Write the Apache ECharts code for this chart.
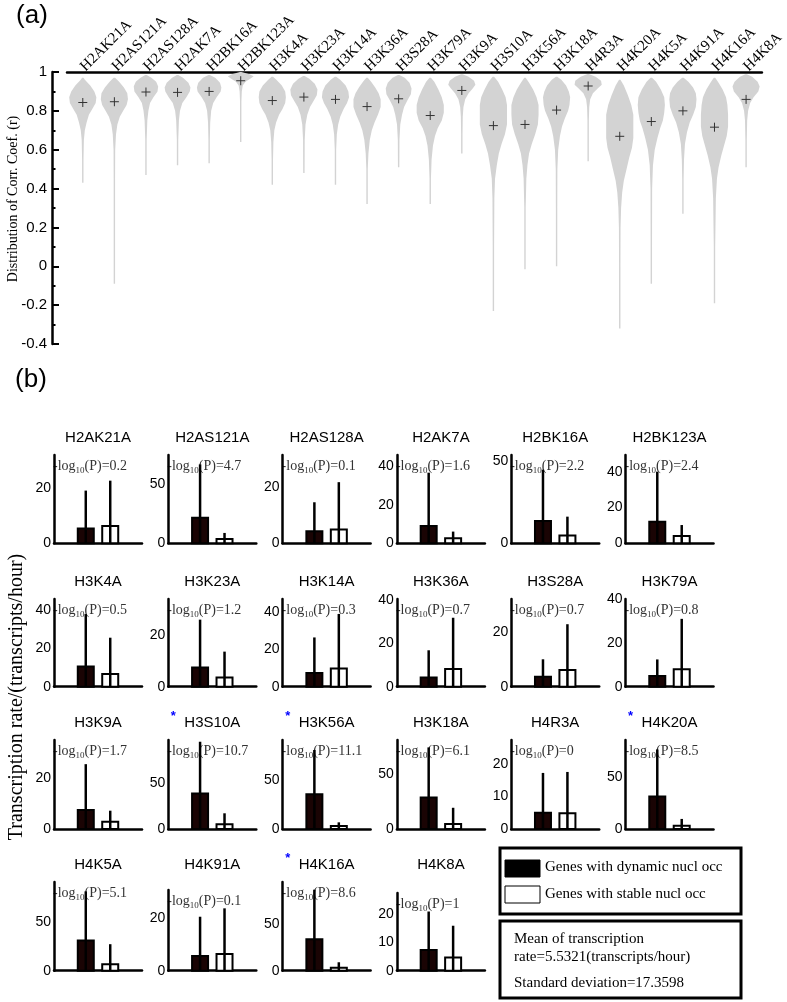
<!DOCTYPE html>
<html><head><meta charset="utf-8">
<script src="https://cdn.jsdelivr.net/npm/echarts@6/dist/echarts.min.js"></script>
<style>html,body{margin:0;padding:0;background:#fff}#c{width:787px;height:1002px}</style>
</head><body><div id="c"></div><script>
// ---------- DATA ----------
const marks = ['H2AK21A','H2AS121A','H2AS128A','H2AK7A','H2BK16A','H2BK123A','H3K4A','H3K23A','H3K14A','H3K36A','H3S28A','H3K79A','H3K9A','H3S10A','H3K56A','H3K18A','H4R3A','H4K20A','H4K5A','H4K91A','H4K16A','H4K8A'];
// (a) mean correlation coefficient per mark
const meanR = [0.843,0.847,0.897,0.895,0.900,0.955,0.853,0.871,0.859,0.822,0.862,0.776,0.905,0.724,0.730,0.804,0.928,0.669,0.745,0.800,0.716,0.859];
// (a) violin density profiles: [r, relative density]
const violinProfiles = [
 [[.97,0],[.96,.15],[.93,.55],[.90,.85],[.87,1],[.84,.95],[.81,.7],[.78,.45],[.74,.28],[.70,.15],[.65,.08],[.55,.04],[.43,0]],
 [[.97,0],[.95,.35],[.92,.7],[.89,.95],[.86,1],[.83,.9],[.80,.65],[.77,.4],[.73,.22],[.68,.12],[.60,.06],[.45,.04],[.20,.03],[-.09,0]],
 [[.985,0],[.97,.4],[.95,.75],[.925,.9],[.90,.85],[.87,.55],[.84,.3],[.80,.18],[.75,.1],[.65,.05],[.47,0]],
 [[.985,0],[.97,.4],[.945,.8],[.92,.95],[.90,.9],[.87,.65],[.84,.35],[.80,.18],[.75,.1],[.65,.05],[.52,0]],
 [[.985,0],[.97,.45],[.945,.8],[.92,.9],[.90,.85],[.87,.55],[.84,.3],[.80,.15],[.74,.08],[.65,.04],[.53,0]],
 [[1.0,0],[.99,.6],[.978,.95],[.965,.7],[.95,.35],[.93,.15],[.90,.08],[.85,.05],[.75,.03],[.64,0]],
 [[.975,0],[.96,.3],[.93,.7],[.90,.95],[.87,1],[.84,.95],[.81,.75],[.78,.5],[.74,.28],[.70,.15],[.64,.08],[.55,.04],[.42,0]],
 [[.98,0],[.965,.4],[.94,.8],[.91,1],[.88,.95],[.85,.7],[.82,.45],[.78,.25],[.73,.12],[.65,.06],[.48,0]],
 [[.975,0],[.96,.35],[.93,.75],[.90,.95],[.87,1],[.84,.85],[.81,.6],[.77,.35],[.73,.2],[.68,.1],[.60,.05],[.42,0]],
 [[.97,0],[.95,.3],[.92,.6],[.89,.85],[.86,1],[.82,1],[.78,.8],[.74,.55],[.70,.35],[.65,.2],[.58,.1],[.50,.05],[.32,0]],
 [[.985,0],[.97,.45],[.945,.8],[.915,.95],[.885,.9],[.855,.65],[.82,.4],[.78,.25],[.73,.12],[.65,.06],[.51,0]],
 [[.97,0],[.95,.3],[.91,.6],[.87,.85],[.83,1],[.79,1],[.75,.85],[.71,.55],[.67,.35],[.62,.2],[.55,.1],[.45,.05],[.32,0]],
 [[.988,0],[.975,.5],[.955,.9],[.935,1],[.915,.8],[.89,.5],[.86,.25],[.82,.12],[.77,.07],[.68,.04],[.58,0]],
 [[.975,0],[.95,.35],[.91,.65],[.87,.9],[.83,1],[.78,1],[.73,1],[.68,.85],[.63,.6],[.58,.4],[.52,.25],[.45,.12],[.35,.07],[.10,.04],[-.23,0]],
 [[.97,0],[.945,.3],[.91,.6],[.87,.85],[.83,1],[.78,1],[.73,.95],[.68,.75],[.63,.5],[.58,.3],[.52,.18],[.45,.1],[.30,.05],[-.015,0]],
 [[.976,0],[.96,.35],[.93,.7],[.90,.9],[.87,1],[.83,.95],[.80,.85],[.76,.6],[.72,.4],[.67,.25],[.60,.12],[.50,.06],[.30,.04],[0,0]],
 [[.99,0],[.975,.55],[.955,.95],[.935,1],[.915,.7],[.89,.35],[.86,.15],[.82,.08],[.75,.05],[.54,0]],
 [[.96,0],[.93,.3],[.88,.6],[.83,.85],[.78,1],[.72,1],[.66,1],[.61,.9],[.56,.7],[.50,.5],[.44,.3],[.38,.18],[.30,.1],[.20,.06],[0,.04],[-.32,0]],
 [[.97,0],[.95,.35],[.91,.7],[.87,.95],[.83,1],[.79,.95],[.75,.85],[.71,.65],[.66,.45],[.60,.25],[.52,.12],[.40,.06],[.10,.03],[-.09,0]],
 [[.97,0],[.95,.4],[.92,.75],[.89,.95],[.86,1],[.82,.95],[.78,.75],[.74,.5],[.69,.3],[.63,.15],[.55,.08],[.45,.05],[.27,0]],
 [[.97,0],[.945,.3],[.91,.6],[.87,.85],[.83,.95],[.78,1],[.72,1],[.67,.9],[.62,.7],[.57,.5],[.51,.3],[.45,.18],[.35,.1],[.10,.05],[-.19,0]],
 [[.988,0],[.975,.45],[.95,.85],[.925,1],[.90,.9],[.87,.55],[.84,.3],[.80,.15],[.75,.08],[.65,.04],[.51,0]]
];

// (b) transcription rate per mark
const dynMean     = [5.4,21.7,4.3,9.0,13.7,12.1,10.6,7.4,7.3,4.3,3.6,4.9,7.5,39,35.4,28.4,5.0,31.3,31.2,5.6,33.6,7.3];
const dynUpper    = [19.1,67,14.5,36.8,45,40,38.1,26,26.4,16.9,10,12.5,25.5,95.6,80.6,73.8,17.2,76.6,82.3,20.6,86.4,20.8];
const stableMean  = [6.3,3.6,4.9,2.6,4.7,4.1,6.7,3.6,9.7,8.2,6.1,8.0,2.9,5.1,3.1,4.6,4.8,3.2,6.7,6.4,3.2,4.6];
const stableUpper = [22.7,8.8,21.6,6.1,16.3,10.2,25.7,13.6,39,32,22.8,31.1,7.2,17.2,6.8,19.2,17.5,9.7,27.5,23.8,9.0,15.8];
const logP        = ['0.2','4.7','0.1','1.6','2.2','2.4','0.5','1.2','0.3','0.7','0.7','0.8','1.7','10.7','11.1','6.1','0','8.5','5.1','0.1','8.6','1'];
const significant = [0,0,0,0,0,0,0,0,0,0,0,0,0,1,1,0,0,1,0,0,1,0];
const yMax        = [32,75,31.2,46,54,49.3,46,34,47,40.7,32,40.2,35,97.5,90.8,80.5,27.3,85.7,92,30.8,94.6,27.3];
const yStep       = [20,50,20,20,50,20,20,20,20,20,20,20,20,50,50,50,10,50,50,20,50,10];
const legendLabels = ['Genes with dynamic nucl occ','Genes with stable nucl occ'];
const statLines = ['Mean of transcription','rate=5.5321(transcripts/hour)','Standard deviation=17.3598'];

// ---------- LAYOUT ----------
const SANS = 'Liberation Sans', SERIF = 'Liberation Serif';
const chart = echarts.init(document.getElementById('c'), null, {renderer:'canvas'});
const grids = [], xAxes = [], yAxes = [], series = [], graphics = [];

// panel (a)
grids.push({left:67, right:21, top:72, height:272});
xAxes.push({gridIndex:0, type:'category', data:marks, position:'top', boundaryGap:true,
  axisLine:{onZero:false, lineStyle:{color:'#000', width:2.5}}, axisTick:{show:false},
  axisLabel:{interval:0, rotate:-45, margin:3, color:'#000', fontFamily:SERIF, fontSize:15}});
yAxes.push({gridIndex:0, type:'value', min:-0.4, max:1, interval:0.2, offset:15,
  axisLine:{show:true, lineStyle:{color:'#000', width:2.5}},
  axisTick:{show:true, inside:true, length:7, lineStyle:{color:'#000', width:2}},
  minorTick:{show:true, splitNumber:2, length:3.5, lineStyle:{color:'#000', width:2}},
  splitLine:{show:false},
  axisLabel:{color:'#000', fontFamily:SANS, fontSize:15, margin:5,
    formatter:v => String(Math.round(v*10)/10)}});
series.push({type:'custom', xAxisIndex:0, yAxisIndex:0, clip:false,
  data: marks.map((m,i)=>[i, meanR[i]]),
  renderItem(params, api){
    const i = api.value(0);
    const prof = violinProfiles[i];
    const cx = api.coord([i, 0])[0];
    const band = api.size([1, 0])[0];
    const hw = band * 0.43;
    const right = prof.map(([r,d]) => [cx + Math.max(d*hw, 0.7), api.coord([i, r])[1]]);
    const left = prof.map(([r,d]) => [cx - Math.max(d*hw, 0.7), api.coord([i, r])[1]]).reverse();
    const m = api.coord([i, api.value(1)]);
    return {type:'group', children:[
      {type:'polygon', shape:{points:right.concat(left)}, style:{fill:'#d3d3d3', stroke:null}},
      {type:'line', shape:{x1:m[0]-4.5, y1:m[1], x2:m[0]+4.5, y2:m[1]}, style:{stroke:'#333', lineWidth:1}},
      {type:'line', shape:{x1:m[0], y1:m[1]-4.5, x2:m[0], y2:m[1]+4.5}, style:{stroke:'#333', lineWidth:1}}
    ]};
  }});

// panel (b)
const colLeft = i => 54 + 114.3*i;
const rowTop = [455, 599, 740, 882];
const rowBottom = [543.3, 686.7, 829, 970.7];
const topShift = {19:8, 21:11};
const measureCtx = document.createElement('canvas').getContext('2d');
measureCtx.font = '15px "' + SANS + '"';

marks.forEach((name, k) => {
  const row = Math.floor(k/6), col = k%6;
  const left = colLeft(col);
  const top = rowTop[row] + (topShift[k]||0);
  const height = rowBottom[row] - top;
  const gi = grids.length;
  grids.push({left, top, width:88, height});
  xAxes.push({gridIndex:gi, type:'value', min:0, max:3.6,
    axisLine:{show:true, onZero:false, lineStyle:{color:'#000', width:2.5}},
    axisTick:{show:false}, axisLabel:{show:false}, splitLine:{show:false}});
  yAxes.push({gridIndex:gi, type:'value', min:0, max:yMax[k], interval:yStep[k],
    axisLine:{show:true, lineStyle:{color:'#000', width:2.5}},
    axisTick:{show:false}, splitLine:{show:false},
    axisLabel:{color:'#000', fontFamily:SANS, fontSize:14, margin:3, showMaxLabel:false}});
  series.push({type:'custom', xAxisIndex:gi, yAxisIndex:gi, clip:false,
    data:[[1.3, dynMean[k], dynUpper[k], 1],[2.3, stableMean[k], stableUpper[k], 0]],
    renderItem(params, api){
      const x = api.value(0);
      const p0 = api.coord([x, 0]), pm = api.coord([x, api.value(1)]), pu = api.coord([x, api.value(2)]);
      const filled = api.value(3) === 1;
      return {type:'group', children:[
        {type:'rect', shape:{x:p0[0]-8, y:pm[1], width:16, height:p0[1]-pm[1]},
         style:{fill: filled ? '#1a0404' : '#fff', stroke:'#000', lineWidth:2}},
        {type:'line', shape:{x1:p0[0], y1:p0[1], x2:pu[0], y2:pu[1]},
         style:{stroke:'#000', lineWidth:2.5}}
      ]};
    }});
  // title
  const cx = left + 44, ty = rowTop[row] - 17;
  graphics.push({type:'text', x:cx, y:ty, style:{text:name, fill:'#000', font:'15px "'+SANS+'"', align:'center', verticalAlign:'middle'}});
  if (significant[k]) {
    const w = measureCtx.measureText(name).width;
    graphics.push({type:'text', x:cx - w/2 - 11, y:ty - 7, style:{text:'*', fill:'#0000ff', font:'bold 13px "'+SANS+'"', align:'center', verticalAlign:'middle'}});
  }
  // -log10(P) annotation
  graphics.push({type:'text', x:left - 1, y:top + 2, style:{
    text:'{a|-log}{b|10}{a|(P)=' + logP[k] + '}', align:'left', verticalAlign:'top',
    rich:{a:{fontFamily:SERIF, fontSize:14, fill:'#333', lineHeight:18, verticalAlign:'middle'},
          b:{fontFamily:SERIF, fontSize:9, fill:'#333', verticalAlign:'bottom'}}}});
});

// labels and legend boxes
graphics.push(
  {type:'text', x:32, y:16, style:{text:'(a)', font:'26px "'+SANS+'"', fill:'#000', align:'center', verticalAlign:'middle'}},
  {type:'text', x:31, y:380, style:{text:'(b)', font:'26px "'+SANS+'"', fill:'#000', align:'center', verticalAlign:'middle'}},
  {type:'text', x:13, y:199, rotation:Math.PI/2, style:{text:'Distribution of Corr. Coef. (r)', font:'14px "'+SERIF+'"', fill:'#000', align:'center', verticalAlign:'middle'}},
  {type:'text', x:17, y:697, rotation:Math.PI/2, style:{text:'Transcription rate/(transcripts/hour)', font:'20px "'+SERIF+'"', fill:'#000', align:'center', verticalAlign:'middle'}},
  {type:'rect', shape:{x:500, y:848, width:241, height:66}, style:{fill:'#fff', stroke:'#000', lineWidth:3}},
  {type:'rect', shape:{x:505, y:860, width:35, height:17}, style:{fill:'#000', stroke:'#000', lineWidth:1}},
  {type:'rect', shape:{x:505, y:886, width:35, height:17}, style:{fill:'#fff', stroke:'#000', lineWidth:1}},
  {type:'text', x:545, y:867, style:{text:legendLabels[0], font:'15px "'+SERIF+'"', fill:'#000', verticalAlign:'middle'}},
  {type:'text', x:545, y:894, style:{text:legendLabels[1], font:'15px "'+SERIF+'"', fill:'#000', verticalAlign:'middle'}},
  {type:'rect', shape:{x:500, y:921, width:241, height:77}, style:{fill:'#fff', stroke:'#000', lineWidth:3}},
  {type:'text', x:514, y:939, style:{text:statLines[0], font:'15px "'+SERIF+'"', fill:'#000', verticalAlign:'middle'}},
  {type:'text', x:514, y:957, style:{text:statLines[1], font:'15px "'+SERIF+'"', fill:'#000', verticalAlign:'middle'}},
  {type:'text', x:514, y:983, style:{text:statLines[2], font:'15px "'+SERIF+'"', fill:'#000', verticalAlign:'middle'}}
);

chart.setOption({animation:false, backgroundColor:'#fff', grid:grids, xAxis:xAxes, yAxis:yAxes, series, graphic:graphics});
</script></body></html>
